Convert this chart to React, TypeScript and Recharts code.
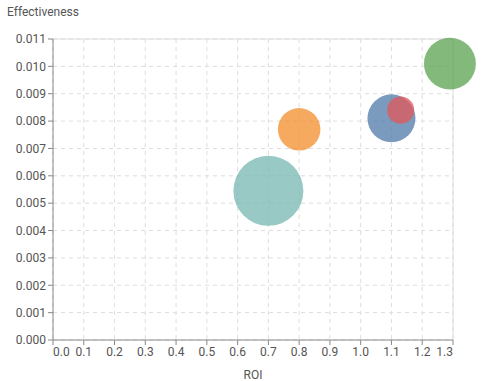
import React from 'react'
import { ScatterChart, Scatter, XAxis, YAxis, ZAxis, CartesianGrid, ReferenceLine, Cell, Label } from 'recharts'

const roi = [0.7, 0.8, 1.1, 1.13, 1.29]
const effectiveness = [0.00545, 0.0077, 0.0081, 0.0084, 0.0101]
const budget = [100, 37, 47, 15, 55]
const colors = ['#76b7b2', '#f28e2b', '#4e79a7', '#e15759', '#59a14f']

const xTicks = [0, 0.1, 0.2, 0.3, 0.4, 0.5, 0.6, 0.7, 0.8, 0.9, 1.0, 1.1, 1.2, 1.3]
const yTicks = [0, 0.001, 0.002, 0.003, 0.004, 0.005, 0.006, 0.007, 0.008, 0.009, 0.01, 0.011]

const data = roi.map((x, i) => ({ x, y: effectiveness[i], z: budget[i] }))

const font = 'Roboto, "Noto Sans", sans-serif'
const textColor = '#555'

const XTick = (props: any) => {
  const { x, y, payload, index } = props
  const last = xTicks.length - 1
  const anchor = index === 0 ? 'start' : index === last ? 'end' : 'middle'
  return (
    <text x={x} y={y} dy={9} textAnchor={anchor} fill={textColor} fontSize={12} fontFamily={font}>
      {payload.value.toFixed(1)}
    </text>
  )
}

export default function App() {
  return (
    <div style={{ position: 'relative', width: 482, height: 381, background: '#fff' }}>
      <style>{`body { margin: 0; }`}</style>
      <div
        style={{
          position: 'absolute',
          left: 7,
          top: 5,
          fontSize: 12,
          fontFamily: font,
          color: textColor,
        }}
      >
        Effectiveness
      </div>
      <ScatterChart width={482} height={381} margin={{ top: 39, right: 29, bottom: 0, left: 0 }}>
        <CartesianGrid stroke="#ddd" strokeDasharray="4 4" />
        <XAxis
          type="number"
          dataKey="x"
          domain={[0, 1.3]}
          ticks={xTicks}
          interval={0}
          height={41}
          tick={<XTick />}
          tickSize={5}
          stroke="#888"
        >
          <Label value="ROI" position="insideBottom" offset={2} fill={textColor} fontSize={12} fontFamily={font} />
        </XAxis>
        <YAxis
          type="number"
          dataKey="y"
          domain={[0, 0.011]}
          ticks={yTicks}
          interval={0}
          width={53}
          tickSize={5}
          stroke="#888"
          tick={{ fill: textColor, fontSize: 12, fontFamily: font }}
          tickFormatter={(v: number) => v.toFixed(3)}
        />
        <ZAxis type="number" dataKey="z" domain={[0, 100]} range={[0, 3848]} />
        <ReferenceLine y={0.011} stroke="#ddd" />
        <ReferenceLine x={1.3} stroke="#ddd" />
        <Scatter data={data} isAnimationActive={false}>
          {data.map((d, i) => (
            <Cell key={i} fill={colors[i]} fillOpacity={0.75} />
          ))}
        </Scatter>
      </ScatterChart>
    </div>
  )
}
